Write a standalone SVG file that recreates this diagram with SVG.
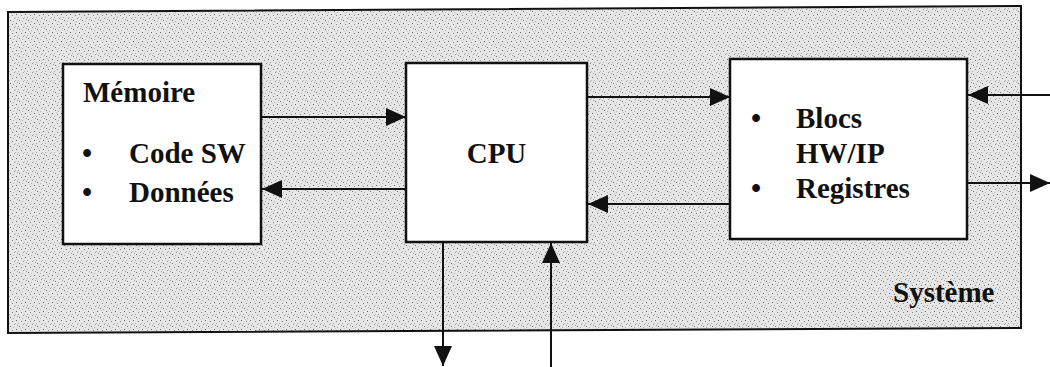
<svg xmlns="http://www.w3.org/2000/svg" width="1050" height="367" viewBox="0 0 1050 367">
<style>
.box{fill:#ffffff;stroke:#111;stroke-width:2.5}
.wire{stroke:#111;stroke-width:2;fill:none}
.t{font-family:"Liberation Serif","Times New Roman",serif;font-weight:bold;font-size:29px;fill:#111}
</style>
<defs>
<pattern id="dots" width="9" height="9" patternUnits="userSpaceOnUse">
<rect width="9" height="9" fill="#e6e6e6"/>
<rect x="1" y="2" width="1" height="1" fill="#777"/>
<rect x="5" y="0" width="1" height="1" fill="#999"/>
<rect x="7" y="5" width="1" height="1" fill="#666"/>
<rect x="3" y="6" width="1" height="1" fill="#888"/>
<rect x="0" y="8" width="1" height="1" fill="#aaa"/>
<rect x="4" y="3" width="1" height="1" fill="#b0b0b0"/>
<rect x="8" y="1" width="1" height="1" fill="#a0a0a0"/>
<rect x="6" y="8" width="1" height="1" fill="#bbb"/>
<rect x="2" y="4" width="1" height="1" fill="#ccc"/>
</pattern>
<marker id="ah" viewBox="0 0 20 20" refX="20" refY="10" markerWidth="20" markerHeight="20" markerUnits="userSpaceOnUse" orient="auto">
<path d="M0,1 L20,10 L0,19 Z" fill="#111"/>
</marker>
</defs>
<g id="systeme">
<polygon points="8,12 1021,6 1021,328 8,333" fill="url(#dots)" stroke="#111" stroke-width="2"/>
<text class="t" x="893" y="302">Système</text>
</g>
<g id="connectors">
<line class="wire" x1="261" y1="117" x2="406" y2="117" marker-end="url(#ah)"/>
<line class="wire" x1="406" y1="189" x2="262" y2="189" marker-end="url(#ah)"/>
<line class="wire" x1="587" y1="97" x2="730" y2="97" marker-end="url(#ah)"/>
<line class="wire" x1="730" y1="204" x2="588" y2="204" marker-end="url(#ah)"/>
<line class="wire" x1="1050" y1="95" x2="968" y2="95" marker-end="url(#ah)"/>
<line class="wire" x1="967" y1="183" x2="1050" y2="183" marker-end="url(#ah)"/>
<line class="wire" x1="443" y1="243" x2="443" y2="366" marker-end="url(#ah)"/>
<line class="wire" x1="551" y1="367" x2="551" y2="243" marker-end="url(#ah)"/>
</g>
<g id="memoire">
<rect class="box" x="63" y="64" width="198" height="180"/>
<text class="t" x="83" y="102">Mémoire</text>
<text class="t" x="82" y="163">•</text>
<text class="t" x="129" y="163">Code SW</text>
<text class="t" x="82" y="202">•</text>
<text class="t" x="129" y="202">Données</text>
</g>
<g id="cpu">
<rect class="box" x="406" y="63" width="181" height="179"/>
<text class="t" x="496.5" y="163" text-anchor="middle">CPU</text>
</g>
<g id="blocs">
<rect class="box" x="730" y="59" width="237" height="180"/>
<text class="t" x="751" y="128">•</text>
<text class="t" x="796" y="128">Blocs</text>
<text class="t" x="796" y="163">HW/IP</text>
<text class="t" x="751" y="198">•</text>
<text class="t" x="796" y="198">Registres</text>
</g>
</svg>
